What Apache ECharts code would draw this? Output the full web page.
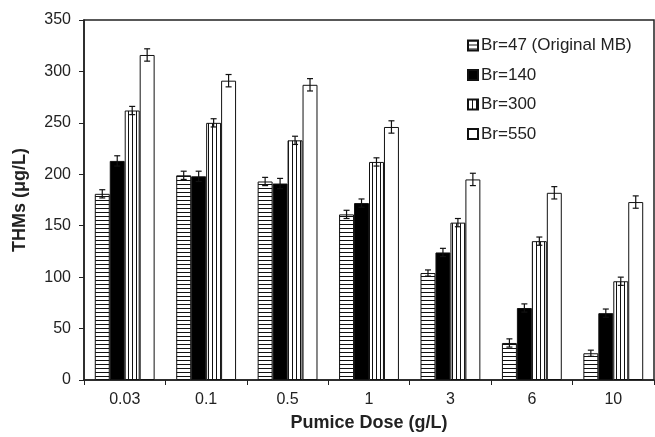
<!DOCTYPE html>
<html>
<head>
<meta charset="utf-8">
<script src="https://cdn.jsdelivr.net/npm/echarts@6/dist/echarts.min.js"></script>
<style>
html, body { margin: 0; padding: 0; background: #fff; }
#chart { width: 655px; height: 437px; }
</style>
</head>
<body>
<div id="chart"></div>
<script>
// data
const doses = ['0.03', '0.1', '0.5', '1', '3', '6', '10']
const seriesNames = ['Br=47 (Original MB)', 'Br=140', 'Br=300', 'Br=550']
const br47 = [181, 199, 193, 161, 104, 36, 26]
const br140 = [213, 198, 191, 172, 124, 70, 65]
const br300 = [262, 250, 233, 212, 153, 135, 96]
const br550 = [316, 291, 287, 246, 195, 182, 173]
const err47 = [4, 4, 4, 4, 3, 4, 3]
const err140 = [5, 5, 5, 4, 4, 4, 4]
const err300 = [4, 4, 4, 4, 4, 4, 4]
const err550 = [6, 6, 6, 6, 6, 6, 6]
const yTicks = [0, 50, 100, 150, 200, 250, 300, 350]

const values = [br47, br140, br300, br550]
const errors = [err47, err140, err300, err550]
const catGap = 0.265

// hatch patterns
function makePattern(w, h, draw) {
  const c = document.createElement('canvas')
  c.width = w
  c.height = h
  const ctx = c.getContext('2d')
  ctx.fillStyle = '#fff'
  ctx.fillRect(0, 0, w, h)
  ctx.strokeStyle = '#111'
  ctx.lineWidth = 1
  draw(ctx)
  return { image: c, repeat: 'repeat' }
}
const horizHatch = makePattern(8, 4, ctx => {
  ctx.beginPath(); ctx.moveTo(0, 0.5); ctx.lineTo(8, 0.5); ctx.stroke()
})
const vertHatch = makePattern(4, 8, ctx => {
  ctx.beginPath(); ctx.moveTo(0.5, 0); ctx.lineTo(0.5, 8); ctx.stroke()
})
const fills = [horizHatch, '#000', vertHatch, '#fff']

const chart = echarts.init(document.getElementById('chart'))

const barSeries = values.map((v, i) => ({
  name: seriesNames[i],
  type: 'bar',
  data: v,
  barGap: 0,
  barCategoryGap: (catGap * 100) + '%',
  itemStyle: { color: fills[i], borderColor: '#111', borderWidth: 1 }
}))

const errSeries = values.map((v, i) => ({
  type: 'custom',
  silent: true,
  z: 5,
  data: v.map((val, j) => [j, val - errors[i][j], val + errors[i][j]]),
  renderItem(params, api) {
    const bw = api.size([1, 0])[0] * (1 - catGap) / 4
    const lo = api.coord([api.value(0), api.value(1)])
    const hi = api.coord([api.value(0), api.value(2)])
    const x = lo[0] + (i - 1.5) * bw
    const cap = 3
    const style = { stroke: '#111', lineWidth: 1.2 }
    return {
      type: 'group',
      children: [
        { type: 'line', shape: { x1: x, y1: lo[1], x2: x, y2: hi[1] }, style },
        { type: 'line', shape: { x1: x - cap, y1: lo[1], x2: x + cap, y2: lo[1] }, style },
        { type: 'line', shape: { x1: x - cap, y1: hi[1], x2: x + cap, y2: hi[1] }, style }
      ]
    }
  }
}))

const option = {
  animation: false,
  textStyle: { fontFamily: 'Liberation Sans, Arial, sans-serif' },
  grid: {
    left: 84, right: 1, top: 20, bottom: 57,
    outerBoundsMode: 'none',
    show: true, borderColor: '#222', borderWidth: 1.5
  },
  legend: {
    orient: 'vertical',
    left: 462,
    top: 32,
    itemWidth: 10,
    itemHeight: 10,
    itemGap: 12.5,
    icon: 'rect',
    data: seriesNames,
    textStyle: { fontSize: 17, color: '#222', padding: [0, 0, 0, -2] }
  },
  xAxis: {
    type: 'category',
    data: doses,
    name: 'Pumice Dose (g/L)',
    nameLocation: 'middle',
    nameGap: 34,
    nameTextStyle: { fontSize: 18, fontWeight: 'bold', color: '#222' },
    axisLine: { lineStyle: { color: '#222', width: 1.5 } },
    axisTick: { show: true, length: 5, lineStyle: { color: '#222' } },
    axisLabel: { fontSize: 16, color: '#222', margin: 12 }
  },
  yAxis: {
    type: 'value',
    min: yTicks[0],
    max: yTicks[yTicks.length - 1],
    interval: 50,
    name: 'THMs (μg/L)',
    nameLocation: 'middle',
    nameGap: 55,
    nameTextStyle: { fontSize: 18, fontWeight: 'bold', color: '#222' },
    splitLine: { show: false },
    axisLine: { show: true, lineStyle: { color: '#222', width: 1.5 } },
    axisTick: { show: true, length: 5, lineStyle: { color: '#222' } },
    axisLabel: { fontSize: 16, color: '#222', margin: 13 }
  },
  series: [...barSeries, ...errSeries]
}
chart.setOption(option)
</script>
</body>
</html>
